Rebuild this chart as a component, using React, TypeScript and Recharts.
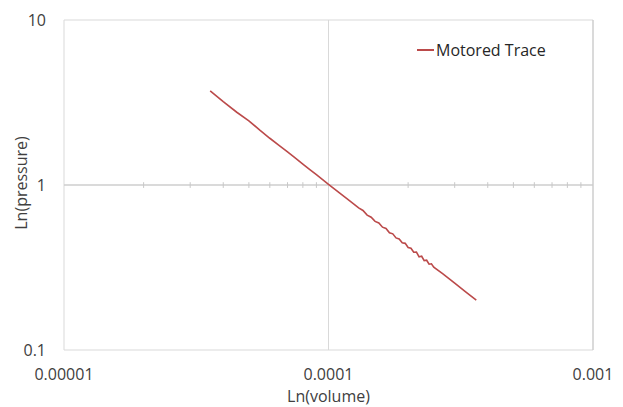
import { LineChart, Line, XAxis, YAxis, CartesianGrid, ReferenceLine, Legend } from 'recharts';

// motored trace, log-log
const volume = [
  0.0000357, 0.00004, 0.000045, 0.00005, 0.000055, 0.00006, 0.000065, 0.00007, 0.000075,
  0.00008, 0.000085, 0.00009, 0.000095, 0.0001, 0.00011, 0.00012, 0.00013, 0.000135, 0.00014,
  0.000145, 0.00015, 0.000155, 0.00016, 0.000165, 0.00017, 0.000175, 0.00018, 0.000185,
  0.00019, 0.000195, 0.0002, 0.000205, 0.00021, 0.000215, 0.00022, 0.000225, 0.00023,
  0.000235, 0.00024, 0.000245, 0.00025, 0.00027, 0.0003, 0.00033, 0.000362,
];
const pressure = [
  3.72, 3.2, 2.76, 2.45, 2.15, 1.92, 1.74, 1.585, 1.453,
  1.339, 1.241, 1.155, 1.079, 1.01, 0.897, 0.804, 0.727, 0.701, 0.657,
  0.638, 0.602, 0.589, 0.555, 0.545, 0.514, 0.506, 0.478, 0.471,
  0.446, 0.443, 0.418, 0.414, 0.391, 0.392, 0.367, 0.37, 0.348,
  0.35, 0.331, 0.333, 0.318, 0.29, 0.254, 0.225, 0.2005,
];

const seriesName = 'Motored Trace';
const seriesColor = '#bb4a4a';

const xTicks = [0.00001, 0.0001, 0.001];
const xTickLabels = ['0.00001', '0.0001', '0.001'];
const yTicks = [0.1, 1, 10];
const yTickLabels = ['0.1', '1', '10'];

// minor ticks on the axis crossing at y = 1
const xMinorTicks = [
  0.00002, 0.00003, 0.00004, 0.00005, 0.00006, 0.00007, 0.00008, 0.00009,
  0.0002, 0.0003, 0.0004, 0.0005, 0.0006, 0.0007, 0.0008, 0.0009,
];
// ticks on the right-hand value axis
const yAxisTicks = [
  0.1, 0.2, 0.3, 0.4, 0.5, 0.6, 0.7, 0.8, 0.9, 1, 2, 3, 4, 5, 6, 7, 8, 9, 10,
];

const data = volume.map((v, i) => ({ volume: v, pressure: pressure[i] }));

const font = "'Open Sans', sans-serif";
const tickStyle = { fontSize: 16, fill: '#404040', fontFamily: font };

const YTitle = (props: any) => {
  const vb = props.viewBox;
  const cx = vb.x + 21;
  const cy = vb.y + vb.height / 2 - 2;
  return (
    <text
      x={cx}
      y={cy}
      transform={`rotate(-90 ${cx} ${cy})`}
      textAnchor="middle"
      dominantBaseline="central"
      fontSize={16}
      fill="#404040"
      fontFamily={font}
    >
      Ln(pressure)
    </text>
  );
};

const LegendBox = (props: any) => {
  const item = props.payload?.[0];
  if (!item) return null;
  return (
    <div style={{ display: 'flex', alignItems: 'center', fontFamily: font }}>
      <span style={{ width: 17, height: 2, background: item.color, display: 'inline-block' }} />
      <span style={{ marginLeft: 2, fontSize: 16, lineHeight: '22px', color: '#262626' }}>
        {item.value}
      </span>
    </div>
  );
};

export default function App() {
  return (
    <div style={{ position: 'absolute', left: 0, top: 0, width: 623, height: 407, background: '#fff' }}>
      <LineChart width={623} height={407} data={data} margin={{ top: 20, right: 0, left: 0, bottom: 0 }}>
        <CartesianGrid stroke="#d9d9d9" strokeWidth={1} />
        <XAxis
          dataKey="volume"
          type="number"
          scale="log"
          domain={[0.00001, 0.001]}
          allowDataOverflow
          ticks={xTicks}
          tickFormatter={(v: number) => xTickLabels[xTicks.indexOf(v)] ?? String(v)}
          axisLine={false}
          tickLine={false}
          tickSize={0}
          tickMargin={19}
          height={57}
          tick={tickStyle}
          interval={0}
          label={{
            value: 'Ln(volume)',
            position: 'insideBottom',
            offset: 5,
            style: { fontSize: 16, fill: '#404040', fontFamily: font },
          }}
        />
        <YAxis
          type="number"
          scale="log"
          domain={[0.1, 10]}
          allowDataOverflow
          ticks={yTicks}
          tickFormatter={(v: number) => yTickLabels[yTicks.indexOf(v)] ?? String(v)}
          axisLine={false}
          tickLine={false}
          tickSize={0}
          tickMargin={18}
          width={64}
          tick={tickStyle}
          interval={0}
          label={{ content: YTitle }}
        />
        <YAxis
          yAxisId="right"
          orientation="right"
          type="number"
          scale="log"
          domain={[0.1, 10]}
          allowDataOverflow
          ticks={yAxisTicks}
          interval={0}
          tick={false}
          tickSize={3}
          width={30}
          axisLine={{ stroke: '#c8c8c8' }}
          tickLine={{ stroke: '#c8c8c8' }}
        />
        <ReferenceLine y={1} stroke="#c8c8c8" strokeWidth={1} />
        {xMinorTicks.map((t) => (
          <ReferenceLine
            key={t}
            segment={[
              { x: t, y: 0.96 },
              { x: t, y: 1.04 },
            ]}
            stroke="#c8c8c8"
            strokeWidth={1}
          />
        ))}
        <Legend
          content={LegendBox}
          layout="horizontal"
          verticalAlign="middle"
          align="center"
          wrapperStyle={{ position: 'absolute', top: 39, left: 417, width: 'auto' }}
        />
        <Line
          type="linear"
          dataKey="pressure"
          name={seriesName}
          stroke={seriesColor}
          strokeWidth={1.6}
          dot={false}
          isAnimationActive={false}
        />
      </LineChart>
    </div>
  );
}
